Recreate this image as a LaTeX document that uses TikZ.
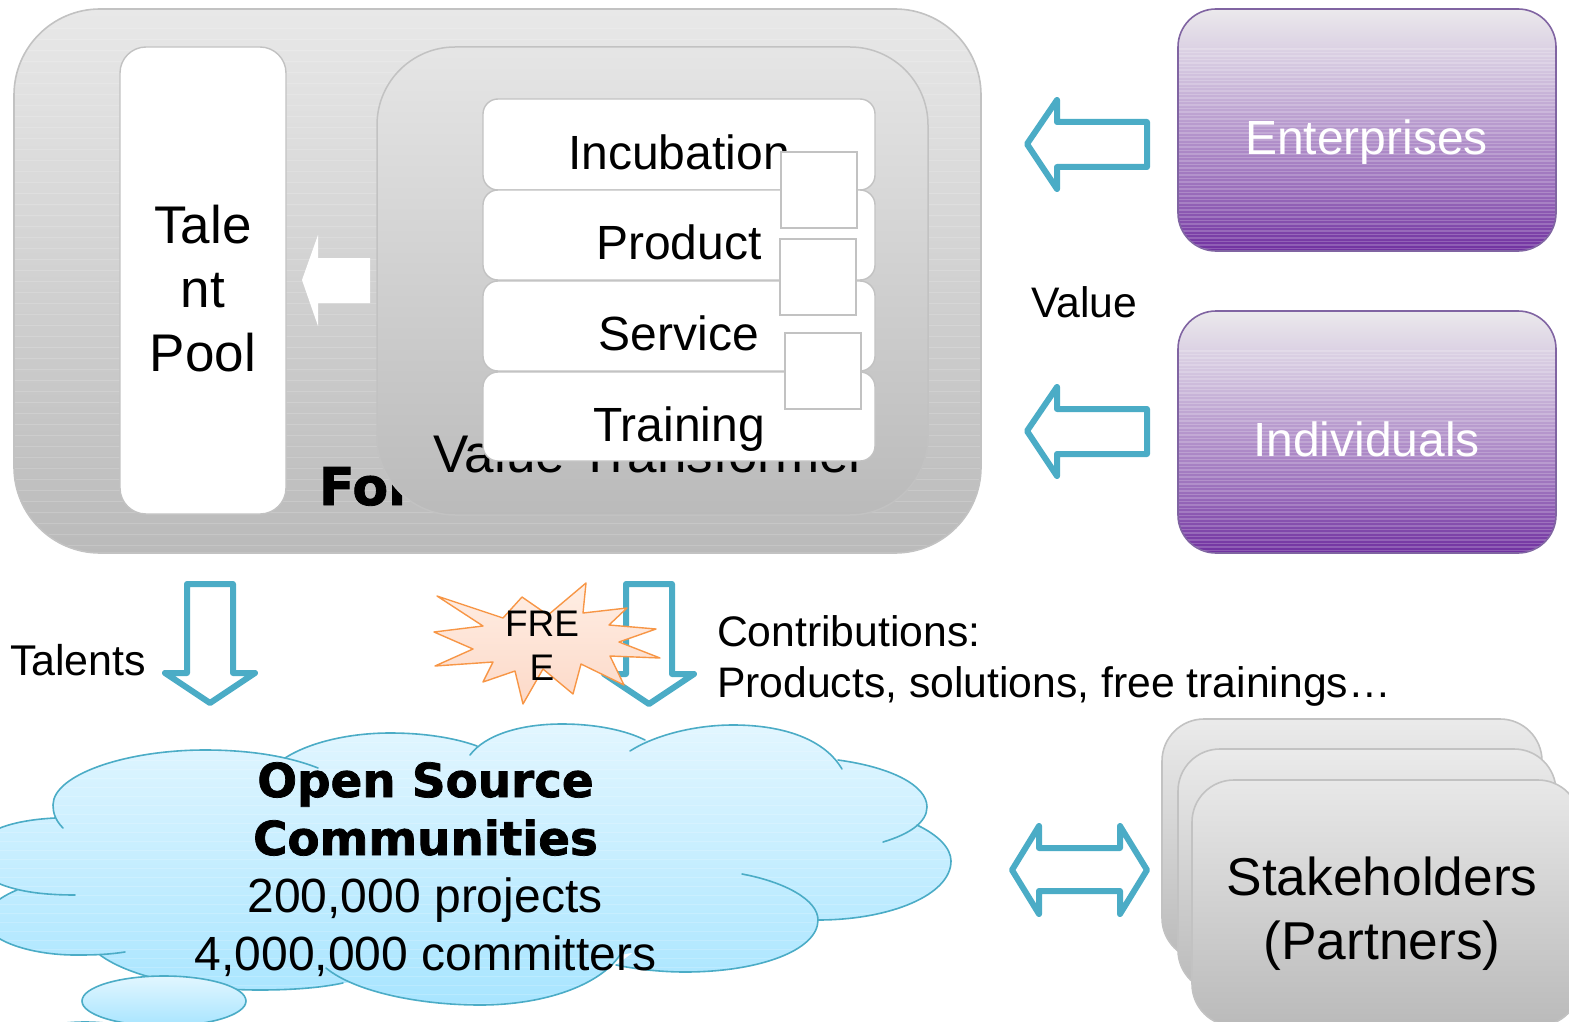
\documentclass[tikz,border=0pt]{standalone}
\usepackage{fontspec}
\setmainfont{Liberation Sans}
\newfontfamily\blk[BoldFeatures={FakeBold=1.6}]{DejaVu Sans}
\definecolor{teal1}{HTML}{4BACC6}
\definecolor{gline}{HTML}{C2C2C2}
\definecolor{pline}{HTML}{8064A2}
\definecolor{cloudl}{HTML}{4BACC6}
\definecolor{cloudt}{HTML}{E2F6FF}
\definecolor{cloudb}{HTML}{A8E5FF}
\definecolor{orng}{HTML}{F79646}
\definecolor{start}{HTML}{FEEEE4}
\definecolor{starb}{HTML}{FDD9C8}
\definecolor{ptop}{HTML}{EBE9EC}
\definecolor{pa}{HTML}{D3C5DF}
\definecolor{pb}{HTML}{B596CC}
\definecolor{pc}{HTML}{9A6EBB}
\definecolor{pbot}{HTML}{7030A0}
\pgfdeclareverticalshading{purp}{100bp}{color(0bp)=(pbot); color(25bp)=(pbot); color(37.5bp)=(pc); color(50bp)=(pb); color(62.5bp)=(pa); color(75bp)=(ptop); color(100bp)=(ptop)}
\newcommand{\fs}[1]{\fontsize{#1}{#1}\selectfont}
\newcommand{\cloudfill}{
  (63,828) .. controls (55,820) and (53,812) .. (53,805) .. controls (53,775) and (125,750) .. (205,750) .. controls (245,750) and (285,755) .. (318,768) -- cycle
  (285,758) .. controls (310,742) and (350,733) .. (390,733) .. controls (425,733) and (455,738) .. (477,746) -- cycle
  (470,755) .. controls (485,735) and (520,724) .. (562,724) .. controls (595,724) and (625,730) .. (645,740) -- cycle
  (630,751) .. controls (655,735) and (695,725) .. (733,725) .. controls (785,725) and (825,740) .. (842,769) -- cycle
  (838,760) .. controls (890,767) and (927,785) .. (927,807) .. controls (927,822) and (910,834) .. (883,842) -- cycle
  (917,825) .. controls (938,835) and (951,848) .. (951,861) .. controls (951,895) and (890,920) .. (818,920) -- cycle
  (742,874) .. controls (785,882) and (818,900) .. (818,920) .. controls (818,950) and (760,972) .. (685,972) .. controls (660,972) and (635,969) .. (616,965) -- cycle
  (620,955) .. controls (600,985) and (545,1005) .. (480,1005) .. controls (420,1005) and (355,992) .. (326,968) -- cycle
  (343,983) .. controls (320,988) and (290,990) .. (260,990) .. controls (190,990) and (130,977) .. (100,955) -- cycle
  (125,952) .. controls (105,955) and (90,955) .. (75,955) .. controls (30,955) and (-15,940) .. (-15,920) .. controls (-15,908) and (0,897) .. (17,890) -- cycle
  (75,895) .. controls (45,895) and (20,892) .. (0,884) .. controls (-40,870) and (-40,842) .. (0,828) .. controls (15,822) and (35,819) .. (55,818) -- cycle
  (55,818) -- (285,758) -- (477,746) -- (645,740) -- (842,769) -- (917,825) -- (818,920) -- (620,955) -- (343,983) -- (100,955) -- (17,890) -- (0,884) -- (0,828) -- cycle
}
\tikzset{
  txt/.style={inner sep=0pt,outer sep=0pt,anchor=base,align=center,text=black},
  txl/.style={txt,anchor=base west},
  greybox/.style={draw=gline,line width=1.6pt,top color=#1,bottom color=black!27},
  greybox/.default={black!9},
  whitebox/.style={draw=gline,line width=1.4pt,fill=white},
  purpbox/.style={draw=pline,line width=1.6pt,shading=purp},
  bluearrow/.style={draw=teal1,line width=6pt,line join=round,fill=white},
  cloudstroke/.style={draw=cloudl,line width=1.6pt,line cap=round},
  sq/.style={draw=gline,line width=1.2pt,fill=white},
}
\begin{document}
\begin{tikzpicture}[x=1pt,y=-1pt]
\useasboundingbox (0,0) rectangle (1569,1022);
\clip (0,0) rectangle (1569,1022);
% outer box
\path[greybox,rounded corners=86pt] (14,9) rectangle (981,553);
\begin{scope}
  \clip[rounded corners=86pt] (15,10) rectangle (980,552);
  \foreach \yy in {28,39,...,550}{\draw[white,opacity=.16,line width=.8pt] (14,\yy) -- (981,\yy);}
\end{scope}
\node[txl,font=\blk\bfseries\fs{52}] (forge) at (319,505) {For};
% talent pool
\path[whitebox,rounded corners=26pt] (120,47) rectangle (286,514);
\node[txt,font=\fs{53}] (tale) at (203,243) {Tale};
\node[txt,font=\fs{53}] (nt) at (203,307) {nt};
\node[txt,font=\fs{53}] (pool) at (203,371) {Pool};
% white arrow
\path[fill=white] (302,280) -- (318,235) -- (318,258) -- (370,258) -- (370,303) -- (318,303) -- (318,326) -- cycle;
% inner box
\path[draw=gline,line width=1.5pt,top color=black!10,bottom color=black!27,rounded corners=78pt] (377,47) rectangle (928,515);
\node[txt,font=\fs{53}] (vt) at (650,472) {Value Transformer};
% rows
\path[whitebox,rounded corners=15pt] (483,99) rectangle (875,190);
\path[whitebox,rounded corners=15pt] (483,190) rectangle (875,280);
\path[whitebox,rounded corners=15pt] (483,281) rectangle (875,371);
\path[draw=gline,line width=1.4pt,fill=white,rounded corners=15pt] (483,372) rectangle (875,461);
\node[txt,font=\fs{48}] (inc) at (679,170) {Incubation};
\node[txt,font=\fs{48}] (prod) at (679,259) {Product};
\node[txt,font=\fs{48}] (serv) at (679,350) {Service};
\node[txt,font=\fs{48}] (train) at (679,441) {Training};
\path[sq] (781,152) rectangle (857,228);
\path[sq] (780,239) rectangle (856,315);
\path[sq] (785,333) rectangle (861,409);
% purple boxes
\foreach \yt/\yb in {9/251,311/553}{
  \path[purpbox,rounded corners=38pt] (1178,\yt) rectangle (1556,\yb);
  \begin{scope}
    \clip[rounded corners=38pt] (1179,\yt) rectangle (1555,\yb);
    \pgfmathsetmacro{\ya}{\yt+40}
    \pgfmathsetmacro{\yc}{\yt+43.5}
    \foreach \yy in {\ya,\yc,...,\yb}{\draw[white,opacity=.2,line width=1.2pt] (1178,\yy) -- (1556,\yy);}
  \end{scope}
}
\node[txt,text=white,font=\fs{48}] (ent) at (1366.5,154) {Enterprises};
\node[txt,text=white,font=\fs{48}] (ind) at (1366.5,456) {Individuals};
\node[txl,font=\fs{42.7}] (val) at (1031,317) {Value};
% blue left arrows
\path[bluearrow] (1027,144) -- (1057,100) -- (1057,122) -- (1147,122) -- (1147,167) -- (1057,167) -- (1057,189) -- cycle;
\path[bluearrow] (1027,431) -- (1057,387) -- (1057,409) -- (1147,409) -- (1147,454) -- (1057,454) -- (1057,476) -- cycle;
% down arrows
\path[bluearrow] (187,584) -- (233,584) -- (233,673) -- (255,673) -- (210,703) -- (165,673) -- (187,673) -- cycle;
\path[bluearrow] (626,584) -- (672,584) -- (672,674) -- (694,674) -- (649,704) -- (604,674) -- (626,674) -- cycle;
\node[txl,font=\fs{43}] (tal) at (10,675) {Talents};
% star
\path[draw=orng,line width=1.4pt,line join=round,top color=start,bottom color=starb] (437,596) -- (503,618) -- (522,597) -- (548,615) -- (586,583) -- (583,613) -- (627,608) -- (609,625) -- (656,629) -- (619,642) -- (660,658) -- (610,656) -- (624,685) -- (581,664) -- (573,694) -- (543,669) -- (523,704) -- (515,671) -- (483,682) -- (493,662) -- (435,666) -- (473,649) -- (434,632) -- (483,626) -- cycle;
\node[txt,font=\fs{37}] (fre) at (542,636) {FRE};
\node[txt,font=\fs{37}] (e) at (542,680) {E};
\node[txl,font=\fs{42.7}] (con) at (717,646) {Contributions:};
\node[txl,font=\fs{42.7}] (pro) at (717,697) {Products, solutions, free trainings…};
% cloud
\shade[top color=cloudt,bottom color=cloudb] \cloudfill;
\begin{scope}
  \clip \cloudfill;
  \foreach \yy in {733,742,...,1010}{\draw[white,opacity=.18,line width=.8pt] (-20,\yy) -- (960,\yy);}
\end{scope}
\draw[cloudstroke] (63,828) .. controls (55,820) and (53,812) .. (53,805) .. controls (53,775) and (125,750) .. (205,750) .. controls (245,750) and (285,755) .. (318,768);
\draw[cloudstroke] (285,758) .. controls (310,742) and (350,733) .. (390,733) .. controls (425,733) and (455,738) .. (477,746);
\draw[cloudstroke] (470,755) .. controls (485,735) and (520,724) .. (562,724) .. controls (595,724) and (625,730) .. (645,740);
\draw[cloudstroke] (630,751) .. controls (655,735) and (695,725) .. (733,725) .. controls (785,725) and (825,740) .. (842,769);
\draw[cloudstroke] (838,760) .. controls (890,767) and (927,785) .. (927,807) .. controls (927,822) and (910,834) .. (883,842);
\draw[cloudstroke] (917,825) .. controls (938,835) and (951,848) .. (951,861) .. controls (951,895) and (890,920) .. (818,920);
\draw[cloudstroke] (742,874) .. controls (785,882) and (818,900) .. (818,920) .. controls (818,950) and (760,972) .. (685,972) .. controls (660,972) and (635,969) .. (616,965);
\draw[cloudstroke] (326,968) .. controls (355,992) and (420,1005) .. (480,1005) .. controls (545,1005) and (600,985) .. (620,955);
\draw[cloudstroke] (343,983) .. controls (320,988) and (290,990) .. (260,990) .. controls (190,990) and (130,977) .. (100,955);
\draw[cloudstroke] (125,952) .. controls (105,955) and (90,955) .. (75,955) .. controls (30,955) and (-15,940) .. (-15,920) .. controls (-15,908) and (0,897) .. (17,890);
\draw[cloudstroke] (75,895) .. controls (45,895) and (20,892) .. (0,884) .. controls (-40,870) and (-40,842) .. (0,828) .. controls (15,822) and (35,819) .. (55,818);
\path[cloudstroke,top color=cloudt,bottom color=cloudb] (164,1001) ellipse [x radius=82,y radius=25];
\path[cloudstroke,top color=cloudt,bottom color=cloudb] (85,1040) ellipse [x radius=60,y radius=18];
\node[txt,font=\blk\bfseries\fs{46.8}] (os) at (425.5,797) {Open Source};
\node[txt,font=\blk\bfseries\fs{46.8}] (com) at (425.5,855) {Communities};
\node[txt,font=\fs{48}] (prj) at (425,912) {200,000 projects};
\node[txt,font=\fs{48}] (cmt) at (425.5,970) {4,000,000 committers};
% double arrow
\path[bluearrow] (1012,870) -- (1039,826) -- (1039,848) -- (1120,848) -- (1120,826) -- (1147,870) -- (1120,914) -- (1120,891) -- (1039,891) -- (1039,914) -- cycle;
% stakeholders
\path[greybox={black!8},rounded corners=42pt] (1162,719) rectangle (1542,960);
\path[greybox={black!8},rounded corners=42pt] (1178,749) rectangle (1556,992);
\path[greybox={black!9},rounded corners=42pt] (1192,780) rectangle (1580,1026);
\node[txt,font=\fs{53.3}] (sh) at (1382,895) {Stakeholders};
\node[txt,font=\fs{53.3}] (pa) at (1382,959) {(Partners)};
\end{tikzpicture}
\end{document}
